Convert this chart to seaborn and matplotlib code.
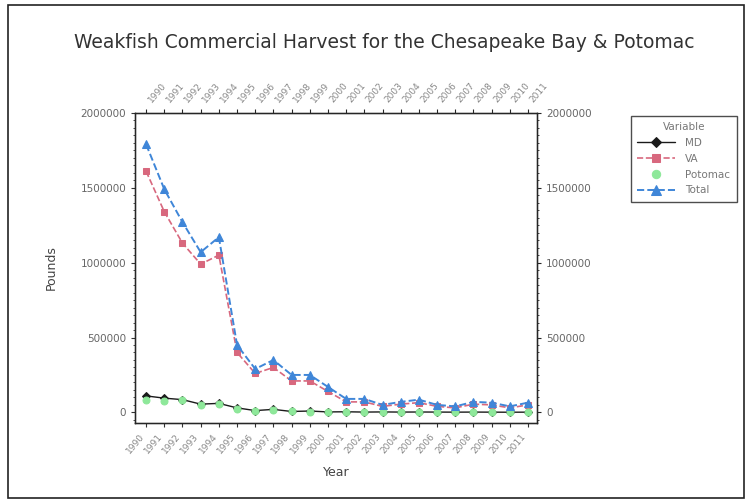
import numpy as np
import pandas as pd
import matplotlib
matplotlib.use("Agg")
import matplotlib.pyplot as plt
from matplotlib.patches import Rectangle
from matplotlib.ticker import AutoMinorLocator
import seaborn as sns

years = list(range(1990, 2012))
md = [110000, 95000, 85000, 55000, 60000, 30000, 12000, 20000, 6000, 9000, 3000,
      4000, 2000, 3000, 2000, 2500, 2000, 1500, 2000, 1500, 1000, 1500]
va = [1610000, 1340000, 1130000, 990000, 1050000, 400000, 260000, 300000, 210000, 210000, 140000,
      70000, 70000, 40000, 55000, 65000, 40000, 30000, 55000, 50000, 30000, 50000]
potomac = [80000, 75000, 80000, 50000, 55000, 25000, 10000, 15000, 8000, 5000, 2000,
           3000, 2000, 2000, 3000, 2000, 1500, 1000, 2000, 2000, 1000, 1500]
total = [1790000, 1490000, 1270000, 1070000, 1170000, 450000, 290000, 350000, 250000, 250000, 170000,
         90000, 90000, 50000, 70000, 85000, 50000, 40000, 70000, 65000, 40000, 65000]

series_names = ["MD", "VA", "Potomac", "Total"]
df = pd.DataFrame({"Year": [str(y) for y in years] * 4,
                   "Pounds": md + va + potomac + total,
                   "Variable": np.repeat(series_names, len(years))})
df["pos"] = np.tile(np.arange(len(years)), 4)

sns.set_style("white")
plt.rcParams["font.family"] = ["DejaVu Sans"]

fig = plt.figure(figsize=(7.47, 5.04), dpi=100)
ax = fig.add_axes([0.181, 0.161, 0.538, 0.615])

styles = {
    "MD": dict(color="#1a1a1a", marker="D", linestyle="-", ms=4, lw=1.0),
    "VA": dict(color="#d8687e", marker="s", linestyle="--", ms=5, lw=1.2),
    "Potomac": dict(color="#8ee89a", marker="o", linestyle=(0, (1, 3)), ms=5, lw=1.0),
    "Total": dict(color="#3f86d8", marker="^", linestyle="--", ms=6, lw=1.4),
}
for name in series_names:
    st = styles[name]
    sub = df[df["Variable"] == name]
    sns.lineplot(data=sub, x="pos", y="Pounds", ax=ax, color=st["color"],
                 marker=st["marker"], linestyle=st["linestyle"], markersize=st["ms"],
                 linewidth=st["lw"], markeredgecolor=st["color"], label=name)

ax.set_xlim(-0.6, len(years) - 0.5)
ax.set_ylim(-70000, 2000000)
yt = [0, 500000, 1000000, 1500000, 2000000]
ax.set_yticks(yt)
ax.set_yticklabels([str(v) for v in yt], fontsize=7.5)
ax.set_xticks(range(len(years)))
ax.set_xticklabels([str(y) for y in years], rotation=50, ha="right", fontsize=6.5)
ax.yaxis.set_minor_locator(AutoMinorLocator(10))
ax.tick_params(axis="both", which="major", direction="out", length=3, width=0.8, colors="#333333")
ax.tick_params(axis="both", which="minor", direction="out", length=1.5, width=0.6, colors="#333333")
for lab in ax.get_xticklabels():
    lab.set_color("#888888")
for lab in ax.get_yticklabels():
    lab.set_color("#666666")
ax.set_xlabel("Year", fontsize=9, color="#444444", labelpad=8)
ax.set_ylabel("Pounds", fontsize=9, color="#444444", labelpad=16)
for s in ax.spines.values():
    s.set_color("#222222")
    s.set_linewidth(1.0)

# secondary axes repeating the scales
axr = ax.twinx()
axr.set_ylim(ax.get_ylim())
axr.set_yticks(yt)
axr.set_yticklabels([str(v) for v in yt], fontsize=7.5, color="#666666")
axr.yaxis.set_minor_locator(AutoMinorLocator(10))
axr.tick_params(axis="y", which="major", direction="out", length=3, width=0.8)
axr.tick_params(axis="y", which="minor", direction="out", length=1.5, width=0.6)

axt = ax.twiny()
axt.set_xlim(ax.get_xlim())
axt.set_xticks(range(len(years)))
axt.set_xticklabels([str(y) for y in years], rotation=50, ha="left", fontsize=6.5, color="#888888")
axt.tick_params(axis="x", which="major", direction="out", length=3, width=0.8)

handles, labels = ax.get_legend_handles_labels()
ax.get_legend().remove()
# the Potomac key shows the point marker only
handles[2].set_linestyle("none")
leg = fig.legend(handles, labels, title="Variable", loc="upper left",
                 bbox_to_anchor=(0.838, 0.78), fontsize=7.5, title_fontsize=7.5,
                 frameon=True, fancybox=False, edgecolor="#222222", handlelength=3.6,
                 borderpad=0.6, labelspacing=0.55, handletextpad=1.0, markerscale=1.2)
for t in leg.get_texts():
    t.set_color("#777777")
leg.get_title().set_color("#777777")

fig.suptitle("Weakfish Commercial Harvest for the Chesapeake Bay & Potomac",
             x=0.515, y=0.935, fontsize=13.5, color="#333333")

fig.patches.append(Rectangle((0.011, 0.012), 0.985, 0.978, transform=fig.transFigure,
                             fill=False, edgecolor="#222222", linewidth=1.2))

fig.savefig("out.png", dpi=100)
